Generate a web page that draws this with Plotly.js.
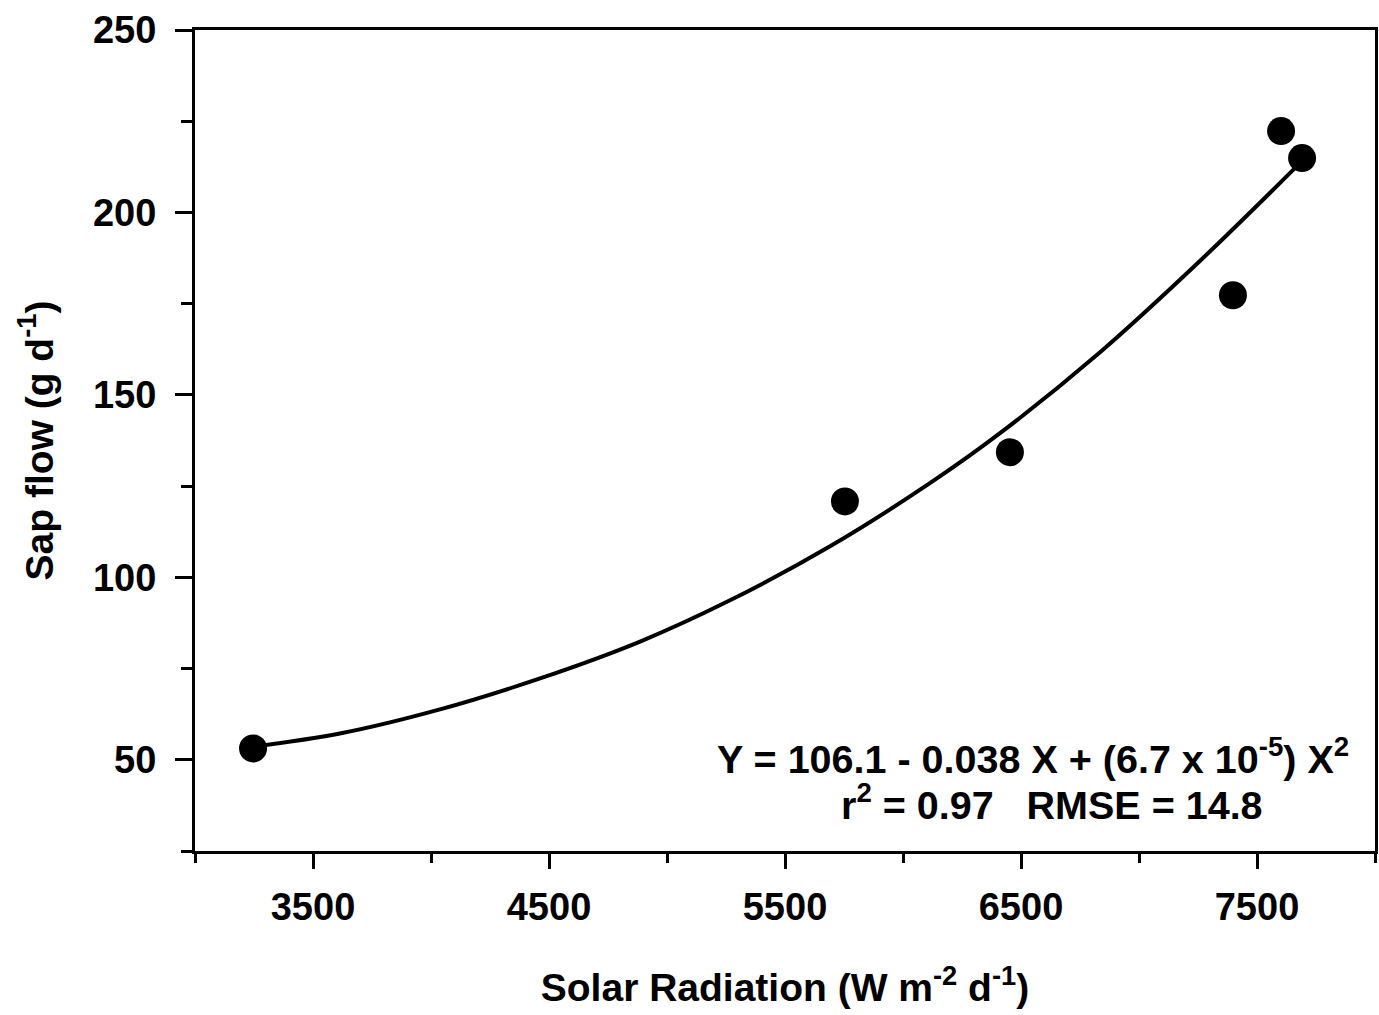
<!DOCTYPE html>
<html>
<head>
<meta charset="utf-8">
<script src="https://cdn.plot.ly/plotly-3.0.1.min.js"></script>
<style>
  html, body { margin: 0; padding: 0; background: #ffffff; }
  #chart { width: 1379px; height: 1015px; }
</style>
</head>
<body>
<div id="chart"></div>
<script>
// Daily solar radiation vs. measured sap flow
const radiation = [3246, 5754, 6453, 7398, 7602, 7691];
const sapFlow = [53.1, 120.8, 134.3, 177.3, 222.3, 214.9];

// Quadratic regression curve, sampled along the fitted line
const fitRadiation = [3246, 3614, 4038, 4462, 4886, 5267, 5691, 6114, 6411, 6835, 7258, 7682];
const fitSapFlow = [53.6, 57.2, 63.8, 72.3, 82.4, 93.7, 108.5, 125.8, 139.5, 161.7, 186.7, 213.5];

const equationText = 'Y = 106.1 - 0.038 X + (6.7 x 10<sup>-5</sup>) X<sup>2</sup>';
const statsText = 'r<sup>2</sup> = 0.97   RMSE = 14.8';

const FONT = 'Liberation Sans, Arial, sans-serif';

const traces = [
  {
    x: fitRadiation,
    y: fitSapFlow,
    mode: 'lines',
    line: { color: '#000000', width: 4, shape: 'spline', smoothing: 1 },
    hoverinfo: 'skip',
    showlegend: false
  },
  {
    x: radiation,
    y: sapFlow,
    mode: 'markers',
    marker: { color: '#000000', size: 28, symbol: 'circle', line: { width: 0 } },
    showlegend: false
  }
];

const layout = {
  width: 1379,
  height: 1015,
  margin: { l: 195, r: 4, t: 30, b: 164 },
  paper_bgcolor: '#ffffff',
  plot_bgcolor: '#ffffff',
  font: { family: FONT, color: '#000000', size: 38, weight: 'bold' },
  showlegend: false,
  xaxis: {
    range: [3000, 8000],
    tick0: 3500,
    dtick: 1000,
    ticks: 'outside',
    ticklen: 15,
    tickwidth: 3,
    tickcolor: '#000000',
    minor: { tick0: 3000, dtick: 500, ticks: 'outside', ticklen: 9, tickwidth: 3, tickcolor: '#000000' },
    showgrid: false,
    zeroline: false,
    showline: true,
    linewidth: 3,
    linecolor: '#000000',
    mirror: true,
    tickfont: { family: FONT, size: 38, color: '#000000', weight: 'bold' },
    ticklabelstandoff: 5,
    title: {
      text: 'Solar Radiation (W m<sup>-2</sup> d<sup>-1</sup>)',
      font: { family: FONT, size: 39, color: '#000000', weight: 'bold' },
      standoff: 48
    }
  },
  yaxis: {
    range: [25, 250],
    tick0: 0,
    dtick: 50,
    ticks: 'outside',
    ticklen: 17,
    tickwidth: 3,
    tickcolor: '#000000',
    minor: { tick0: 25, dtick: 50, ticks: 'outside', ticklen: 11, tickwidth: 3, tickcolor: '#000000' },
    showgrid: false,
    zeroline: false,
    showline: true,
    linewidth: 3,
    linecolor: '#000000',
    mirror: true,
    tickfont: { family: FONT, size: 38, color: '#000000', weight: 'bold' },
    ticklabelstandoff: 11,
    title: {
      text: 'Sap flow (g d<sup>-1</sup>)',
      font: { family: FONT, size: 39, color: '#000000', weight: 'bold' },
      standoff: 28
    }
  },
  annotations: [
    {
      x: 6551, y: 50.9, xref: 'x', yref: 'y',
      text: equationText, showarrow: false,
      xanchor: 'center', yanchor: 'middle',
      font: { family: FONT, size: 39.5, color: '#000000', weight: 'bold' }
    },
    {
      x: 6631, y: 38.3, xref: 'x', yref: 'y',
      text: statsText, showarrow: false,
      xanchor: 'center', yanchor: 'middle',
      font: { family: FONT, size: 39.5, color: '#000000', weight: 'bold' }
    }
  ]
};

Plotly.newPlot('chart', traces, layout, { displayModeBar: false, staticPlot: true });
</script>
</body>
</html>
